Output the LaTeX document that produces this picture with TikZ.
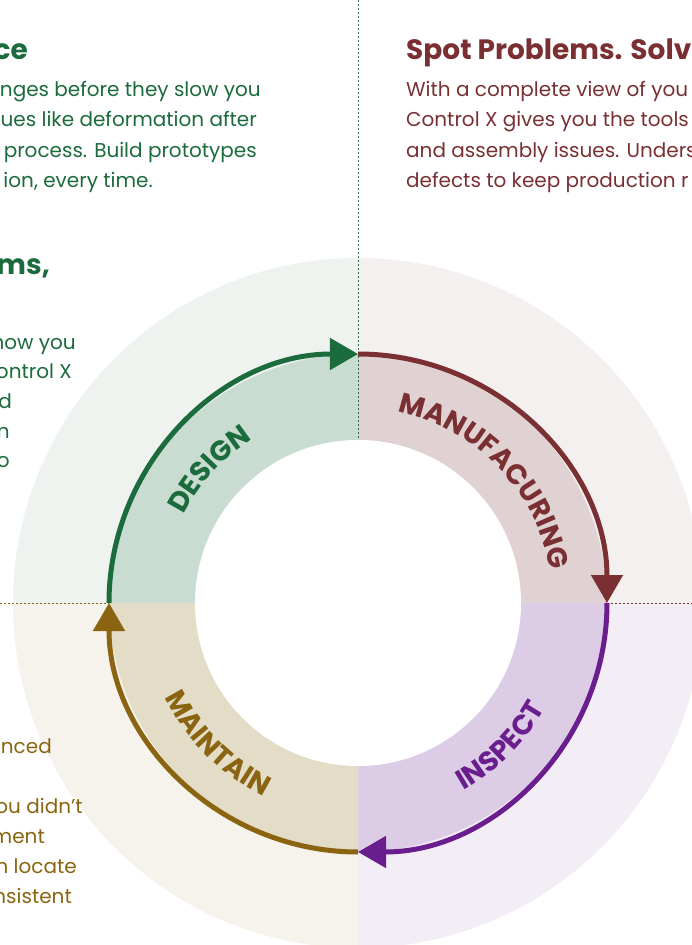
\documentclass[tikz,border=0pt]{standalone}
\usepackage{fontspec}
\setmainfont{Poppins}
\newfontfamily\labelfamily{Poppins}[LetterSpace=22]
\usepackage{xcolor}
\usetikzlibrary{arrows.meta, decorations.text, positioning, calc}

\definecolor{designgreen}{HTML}{1B6B3C}
\definecolor{designband}{HTML}{C9DCD1}
\definecolor{designbg}{HTML}{EEF3EF}
\definecolor{manured}{HTML}{7A3033}
\definecolor{manuband}{HTML}{E0D2D2}
\definecolor{manubg}{HTML}{F3F0EF}
\definecolor{inspviolet}{HTML}{6A1E8E}
\definecolor{inspband}{HTML}{DCCCE6}
\definecolor{inspbg}{HTML}{F3EEF6}
\definecolor{maintgold}{HTML}{8A6410}
\definecolor{maintband}{HTML}{E3DCC7}
\definecolor{maintbg}{HTML}{F6F3EC}

\newcommand{\labelfont}{\labelfamily\fontsize{28}{28}\selectfont\bfseries}

\tikzset{
  cyclearrow/.style={line width=5pt, -{Triangle[length=28pt,width=31pt]}},
  gridline/.style={line width=1pt, dash pattern=on 2pt off 2pt},
  bodytext/.style={font=\fontsize{20}{20}\selectfont, inner sep=0pt},
  headtext/.style={font=\fontsize{28}{28}\selectfont\bfseries, inner sep=0pt},
  arclabel/.style 2 args={decorate, decoration={text along path, text align=center,
      text={|\labelfont\color{#2}|#1}}},
}

\begin{document}
\begin{tikzpicture}[x=1pt,y=1pt]
    \useasboundingbox (-358,-342) rectangle (334,603);

    % quadrants
    \foreach \s/\bg/\band in {90/designbg/designband, 0/manubg/manuband, 270/inspbg/inspband, 180/maintbg/maintband} {
      \fill[\bg] (0,0) -- (\s:345) arc[start angle=\s, delta angle=90, radius=345] -- cycle;
      \fill[\band] (0,0) -- (\s:249) arc[start angle=\s, delta angle=90, radius=249] -- cycle;
    }
    \fill[white] (0,0) circle[radius=163];

    \coordinate (top) at (90:249);
    \coordinate (right) at (0:249);
    \coordinate (bottom) at (270:249);
    \coordinate (left) at (180:249);
    \coordinate (hub) at (90:163);

    \draw[gridline, designgreen!80!gray] (0,603) -- (hub);
    \draw[gridline, maintgold] (-358,0) -- (left);
    \draw[gridline, manured] (right) -- (334,0);

    \draw[cyclearrow, designgreen] (left) arc[start angle=180, end angle=90, radius=249];
    \draw[cyclearrow, manured] (top) arc[start angle=90, end angle=0, radius=249];
    \draw[cyclearrow, inspviolet] (right) arc[start angle=0, end angle=-90, radius=249];
    \draw[cyclearrow, maintgold] (bottom) arc[start angle=270, end angle=180, radius=249];

    \path[arclabel={DESIGN}{designgreen}] (183:195) arc[start angle=183, end angle=93, radius=195];
    \path[arclabel={MANUFACURING}{manured}] (89:195) arc[start angle=89, end angle=-1, radius=195];
    \path[arclabel={INSPECT}{inspviolet}] (-90:215) arc[start angle=-90, end angle=0, radius=215];
    \path[arclabel={MAINTAIN}{maintgold}] (180:215) arc[start angle=180, end angle=270, radius=215];

    % top left text
    \node[headtext, designgreen, anchor=base east] (tlhead) at (-330,543) {ce};
    \node[bodytext, designgreen, anchor=base east] (tl1) at (-97,506) {nges before they slow you};
    \node[bodytext, designgreen, anchor=base east] (tl2) at (-101,476) {ues like deformation after};
    \node[bodytext, designgreen, anchor=base east] (tl3) at (-101,445) {process. Build prototypes};
    \node[bodytext, designgreen, anchor=base east] (tl4) at (-205,415) {ion, every time.};

    \node[headtext, designgreen, anchor=base east] (mlhead) at (-308,328) {ms,};
    \node[bodytext, designgreen, anchor=base east] (ml1) at (-282,253) {now you};
    \node[bodytext, designgreen, anchor=base east] (ml2) at (-286,224) {ontrol X};
    \node[bodytext, designgreen, anchor=base east] (ml3) at (-346,194) {d};
    \node[bodytext, designgreen, anchor=base east] (ml4) at (-348,164) {n};
    \node[bodytext, designgreen, anchor=base east] (ml5) at (-348,135) {o};

    % top right text
    \node[headtext, manured, anchor=base west] (trhead) at (48,543) {Spot Problems. Solv};
    \node[bodytext, manured, anchor=base west] (tr1) at (48,506) {With a complete view of you};
    \node[bodytext, manured, anchor=base west] (tr2) at (48,476) {Control X gives you the tools};
    \node[bodytext, manured, anchor=base west] (tr3) at (48,445) {and assembly issues. Unders};
    \node[bodytext, manured, anchor=base west] (tr4) at (48,415) {defects to keep production r};

    % bottom left text
    \node[bodytext, maintgold, anchor=base east] (bl1) at (-306,-150) {unced};
    \node[bodytext, maintgold, anchor=base east] (bl2) at (-275,-210) {ou didn’t};
    \node[bodytext, maintgold, anchor=base east] (bl3) at (-313,-240) {ment};
    \node[bodytext, maintgold, anchor=base east] (bl4) at (-281,-270) {n locate};
    \node[bodytext, maintgold, anchor=base east] (bl5) at (-286,-300) {nsistent};

  \end{tikzpicture}
\end{document}
